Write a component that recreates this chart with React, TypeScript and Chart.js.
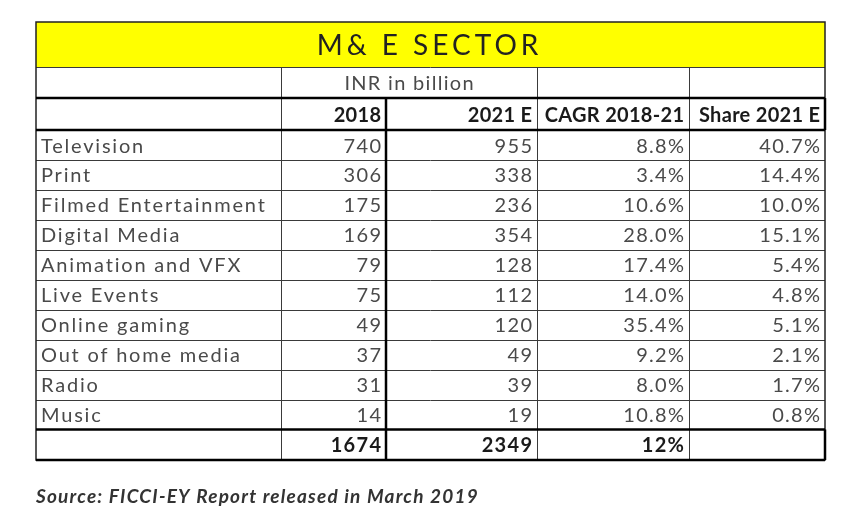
import React, { useEffect, useRef } from "react";
import { Chart, registerables } from "chart.js";

Chart.register(...registerables);

const title = "M& E SECTOR";
const unitLabel = "INR in billion";
const columnHeaders = ["", "2018", "2021 E", "CAGR 2018-21", "Share 2021 E"];
const categories = [
  "Television",
  "Print",
  "Filmed Entertainment",
  "Digital Media",
  "Animation and VFX",
  "Live Events",
  "Online gaming",
  "Out of home media",
  "Radio",
  "Music",
];
const values2018 = [740, 306, 175, 169, 79, 75, 49, 37, 31, 14];
const values2021E = [955, 338, 236, 354, 128, 112, 120, 49, 39, 19];
const cagr2018to21 = [8.8, 3.4, 10.6, 28.0, 17.4, 14.0, 35.4, 9.2, 8.0, 10.8];
const share2021E = [40.7, 14.4, 10.0, 15.1, 5.4, 4.8, 5.1, 2.1, 1.7, 0.8];
const total2018 = 1674;
const total2021E = 2349;
const totalCagr = 12;
const sourceNote = "Source: FICCI-EY Report released in March 2019";

// layout (scale units)
const colEdges = [0, 245, 350, 501, 653, 789];
const titleH = 45;
const unitH = 31;
const headH = 32;
const rowH = 29.9;
const totalH = 30.5;

const FONT = "Lato, 'Open Sans', sans-serif";

const tablePlugin = {
  id: "tablePlugin",
  afterDraw(chart: any) {
    const ctx = chart.ctx as any;
    const xs = chart.scales.x;
    const ys = chart.scales.y;
    const X = (v: number) => xs.getPixelForValue(v);
    const Y = (v: number) => ys.getPixelForValue(v);
    const n = categories.length;
    const rowTop: number[] = [0, titleH, titleH + unitH, titleH + unitH + headH];
    for (let i = 1; i <= n; i++) rowTop.push(rowTop[3] + i * rowH);
    rowTop.push(rowTop[rowTop.length - 1] + totalH);
    const L = X(colEdges[0]);
    const R = X(colEdges[colEdges.length - 1]);

    ctx.save();
    ctx.fillStyle = "#ffff00";
    ctx.fillRect(L, Y(0), R - L, Y(titleH) - Y(0));
    ctx.fillStyle = "#ffffff";
    ctx.fillRect(L, Y(titleH), R - L, Y(rowTop[rowTop.length - 1]) - Y(titleH));

    const text = (
      s: string,
      c0: number,
      c1: number,
      r0: number,
      r1: number,
      align: "left" | "right" | "center",
      font: string,
      color: string,
      spacing: number,
      shift = 0
    ) => {
      ctx.font = font;
      ctx.letterSpacing = spacing + "px";
      ctx.fillStyle = color;
      ctx.textBaseline = "middle";
      ctx.textAlign = "left";
      const w = ctx.measureText(s).width - spacing;
      const pad = 5;
      let x = (X(colEdges[c0]) + X(colEdges[c1])) / 2 - w / 2;
      if (align === "left") x = X(colEdges[c0]) + pad;
      if (align === "right") x = X(colEdges[c1]) - pad - w;
      const y = (Y(rowTop[r0]) + Y(rowTop[r1])) / 2 + 1;
      ctx.fillText(s, x + shift, y);
    };

    const reg = `20px ${FONT}`;
    const bold = `bold 20px ${FONT}`;
    const grey = "#4a4a4a";
    const dark = "#1a1a1a";
    const sp = 1.3;

    text(title, 0, 5, 0, 1, "center", `28px ${FONT}`, "#222", 4, -3);
    text(unitLabel, 1, 3, 1, 2, "center", reg, grey, sp);
    for (let c = 1; c < columnHeaders.length; c++) {
      text(columnHeaders[c], c, c + 1, 2, 3, "right", bold, dark, 0.3);
    }
    for (let i = 0; i < n; i++) {
      const r = 3 + i;
      text(categories[i], 0, 1, r, r + 1, "left", reg, grey, 1.8);
      text(String(values2018[i]), 1, 2, r, r + 1, "right", reg, grey, sp);
      text(String(values2021E[i]), 2, 3, r, r + 1, "right", reg, grey, sp);
      text(cagr2018to21[i].toFixed(1) + "%", 3, 4, r, r + 1, "right", reg, grey, sp);
      text(share2021E[i].toFixed(1) + "%", 4, 5, r, r + 1, "right", reg, grey, sp);
    }
    const tr = 3 + n;
    text(String(total2018), 1, 2, tr, tr + 1, "right", bold, dark, sp);
    text(String(total2021E), 2, 3, tr, tr + 1, "right", bold, dark, sp);
    text(totalCagr + "%", 3, 4, tr, tr + 1, "right", bold, dark, sp);
    ctx.letterSpacing = "0px";

    const line = (x1: number, y1: number, x2: number, y2: number, w: number, col: string) => {
      ctx.beginPath();
      ctx.lineWidth = w;
      ctx.strokeStyle = col;
      ctx.moveTo(x1, y1);
      ctx.lineTo(x2, y2);
      ctx.stroke();
    };
    const thin = "#3a3a3a";
    const bottom = Y(rowTop[rowTop.length - 1]);
    for (let i = 1; i < n; i++) {
      const y = Math.round(Y(rowTop[3 + i])) + 0.5;
      line(L, y, R, y, 1, thin);
    }
    line(L, Math.round(Y(titleH)) + 0.5, R, Math.round(Y(titleH)) + 0.5, 1, thin);
    [1, 3, 4].forEach((c) => {
      const x = Math.round(X(colEdges[c])) + 0.5;
      line(x, Y(titleH), x, bottom, 1, thin);
    });
    ctx.lineWidth = 1.5;
    ctx.strokeStyle = "#222";
    ctx.strokeRect(L, Y(0), R - L, bottom - Y(0));
    const thick = "#000";
    const tw = 2.5;
    [rowTop[2], rowTop[3], rowTop[3 + n], rowTop[4 + n]].forEach((v) => {
      line(L, Y(v), R, Y(v), tw, thick);
    });
    line(X(colEdges[2]), Y(rowTop[2]), X(colEdges[2]), bottom, tw, thick);
    line(R, Y(rowTop[2]), R, Y(rowTop[3]), tw, thick);
    line(R, Y(rowTop[3 + n]), R, bottom, tw, thick);

    ctx.font = `italic bold 19px ${FONT}`;
    ctx.letterSpacing = "1.2px";
    ctx.fillStyle = "#333";
    ctx.textAlign = "left";
    ctx.textBaseline = "middle";
    ctx.fillText(sourceNote, L, bottom + 37);
    ctx.letterSpacing = "0px";
    ctx.restore();
  },
};

export default function App() {
  const ref = useRef<HTMLCanvasElement>(null);
  useEffect(() => {
    if (!ref.current) return;
    const total = titleH + unitH + headH + rowH * categories.length + totalH;
    const chart = new Chart(ref.current, {
      type: "scatter",
      data: { datasets: [{ data: [], pointRadius: 0 }] },
      options: {
        responsive: false,
        animation: false,
        devicePixelRatio: 1,
        layout: { padding: { left: 36, top: 22, right: 40, bottom: 54 } },
        plugins: { legend: { display: false }, tooltip: { enabled: false }, title: { display: false } },
        scales: {
          x: { type: "linear", display: false, min: colEdges[0], max: colEdges[colEdges.length - 1] },
          y: { type: "linear", display: false, min: 0, max: total, reverse: true },
        },
      },
      plugins: [tablePlugin],
    });
    return () => chart.destroy();
  }, []);
  return (
    <div style={{ position: "absolute", left: 0, top: 0, width: 865, height: 514, background: "#fff" }}>
      <canvas ref={ref} width={865} height={514} />
    </div>
  );
}
